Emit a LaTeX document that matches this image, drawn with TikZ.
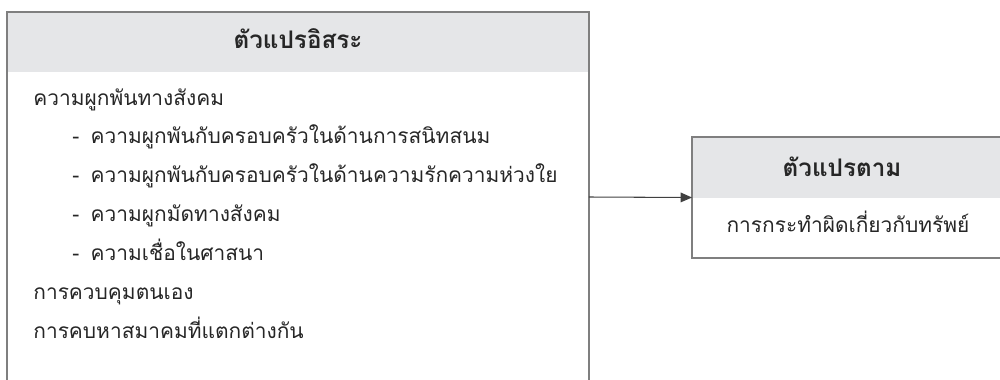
\documentclass[tikz,border=0pt]{standalone}
\usepackage{fontspec}
\newfontfamily\thaifont[Script=Thai]{Loma}
\usepackage{tikz}
\usetikzlibrary{arrows.meta,positioning}
\definecolor{headgray}{HTML}{E5E6E8}
\definecolor{linegray}{HTML}{7F7F7F}
\tikzstyle{box}=[draw=linegray,line width=0.9pt,inner sep=0pt,outer sep=0pt]
\tikzstyle{item}=[anchor=base west,inner sep=0pt,font=\thaifont\fontsize{11.9}{13}\selectfont,text=black!85]
\newcommand{\subdash}{-\hspace{6.5pt}}

\begin{document}
\begin{tikzpicture}[x=0.02cm,y=-0.02cm]
          \useasboundingbox (0,0) rectangle (1000,379);
          \clip (0,0) rectangle (1000,379);
          \tikzstyle{head}=[anchor=base,inner sep=0pt,font=\thaifont\bfseries\fontsize{13.8}{15}\selectfont,text=black!85]

          % header bands
          \fill[headgray] (7,12) rectangle (589,72);
          \fill[headgray] (692,137) rectangle (1002,198);

          % independent variables
          \node[box,minimum width=11.64cm,minimum height=7.4cm] (iv) at (298,197) {};
          \node[head] (ivhead) at (298,48) {ตัวแปรอิสระ};
          \node[item] (v1) at (33,105) {ความผูกพันทางสังคม};
          \node[item] (v1a) at (72,143) {\subdash ความผูกพันกับครอบครัวในด้านการสนิทสนม};
          \node[item] (v1b) at (72,182) {\subdash ความผูกพันกับครอบครัวในด้านความรักความห่วงใย};
          \node[item] (v1c) at (72,221) {\subdash ความผูกมัดทางสังคม};
          \node[item] (v1d) at (72,260) {\subdash ความเชื่อในศาสนา};
          \node[item] (v2) at (33,299) {การควบคุมตนเอง};
          \node[item] (v3) at (33,338) {การคบหาสมาคมที่แตกต่างกัน};

          % dependent variable
          \node[box,minimum width=6.2cm,minimum height=2.42cm] (dv) at (847,197.5) {};
          \node[head] (dvhead) at (842,176) {ตัวแปรตาม};
          \node[item,anchor=base] (d1) at (848,232) {การกระทำผิดเกี่ยวกับทรัพย์};

          \draw[black!75,line width=0.6pt,-{Triangle[length=6.5pt,width=5.5pt]}] (iv.east) -- (dv.west);
\end{tikzpicture}
\end{document}
